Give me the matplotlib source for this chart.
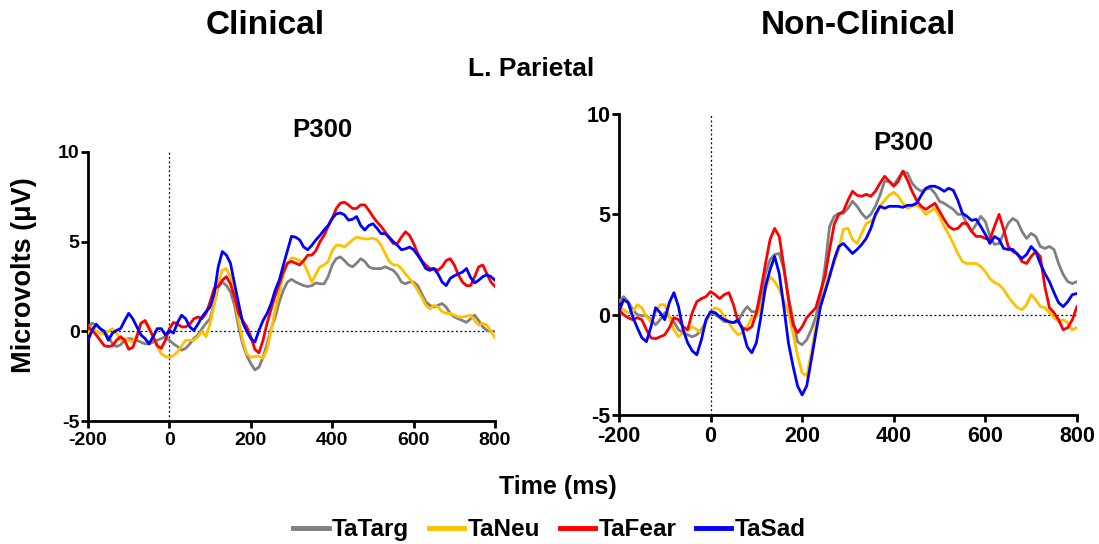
import numpy as np
import matplotlib
matplotlib.use("Agg")
import matplotlib.pyplot as plt
from matplotlib.lines import Line2D

plt.rcParams['font.family'] = ['Liberation Sans', 'DejaVu Sans']
plt.rcParams['font.weight'] = 'bold'
plt.rcParams['axes.unicode_minus'] = False

# time axis (ms), one sample every 10 ms
time_ms = np.arange(-200, 801, 10)

series_names = ["TaTarg", "TaNeu", "TaFear", "TaSad"]
series_colors = ["#808080", "#FFC000", "#FF0000", "#0000FF"]

# ---- Clinical group ----
clin_targ = [0.25, 0.45, 0.35, 0.15, -0.1, -0.3, -0.7, -0.85, -0.75, -0.5,
             -0.4, -0.45, -0.5, -0.6, -0.7, -0.7, -0.6, -0.5, -0.4, -0.3,
             -0.5, -0.7, -0.85, -1.05, -0.95, -0.7, -0.4, -0.2, 0.15, 0.45,
             0.7, 1.55, 2.5, 2.75, 2.55, 2.2, 1.45, 0.25, -0.7, -1.35,
             -1.8, -2.15, -2.0, -1.45, -0.7, 0.15, 0.8, 1.65, 2.3, 2.75,
             2.9, 2.75, 2.65, 2.55, 2.5, 2.55, 2.7, 2.65, 2.65, 3.05,
             3.7, 4.05, 4.15, 3.95, 3.7, 3.6, 3.8, 4.05, 3.9, 3.6,
             3.5, 3.5, 3.5, 3.6, 3.5, 3.4, 3.15, 2.75, 2.65, 2.75,
             2.75, 2.55, 2.1, 1.65, 1.45, 1.35, 1.45, 1.55, 1.35, 1.0,
             0.8, 0.7, 0.6, 0.5, 0.7, 0.9, 0.6, 0.25, 0.05, 0.0,
             0.0]
clin_neu = [-0.1, 0.25, 0.0, -0.1, -0.15, 0.0, 0.15, -0.1, -0.5, -0.4,
            -0.5, -0.6, -0.2, 0.45, 0.6, 0.25, -0.3, -0.85, -1.25, -1.4,
            -1.45, -1.35, -1.15, -0.8, -0.5, -0.5, -0.5, -0.3, 0.0, -0.3,
            0.45, 1.45, 2.75, 3.4, 3.5, 3.05, 1.9, 0.6, -0.5, -1.25,
            -1.45, -1.4, -1.4, -1.5, -1.0, 0.05, 1.2, 2.2, 3.2, 3.8,
            4.1, 4.05, 3.95, 3.8, 3.3, 2.75, 3.2, 3.6, 3.7, 3.9,
            4.5, 4.8, 4.8, 4.7, 4.9, 5.1, 5.25, 5.2, 5.15, 5.15,
            5.2, 5.1, 4.8, 4.35, 3.9, 3.7, 3.7, 3.5, 3.2, 2.95,
            2.65, 2.3, 1.9, 1.45, 1.25, 1.45, 1.35, 1.1, 1.0, 1.0,
            0.9, 0.8, 0.8, 0.85, 0.9, 0.6, 0.35, 0.45, 0.35, 0.0,
            -0.35]
clin_fear = [0.25, 0.05, -0.2, -0.5, -0.8, -0.85, -0.8, -0.5, -0.3, -0.5,
             -1.0, -0.9, -0.3, 0.45, 0.6, 0.15, -0.3, -0.8, -0.95, -0.5,
             0.15, 0.5, 0.4, 0.25, 0.25, 0.4, 0.7, 0.8, 0.7, 1.0,
             1.65, 2.4, 2.5, 2.85, 3.05, 2.65, 1.9, 1.0, 0.6, 0.25,
             -0.3, -1.0, -1.2, -0.5, 0.45, 1.25, 2.0, 2.65, 3.3, 3.8,
             3.9, 3.8, 3.7, 3.95, 4.25, 4.25, 4.5, 5.0, 5.35, 5.85,
             6.3, 6.85, 7.15, 7.2, 7.05, 6.85, 6.85, 7.05, 7.05, 6.75,
             6.4, 6.1, 5.85, 5.55, 5.2, 4.9, 4.9, 5.25, 5.55, 5.35,
             4.9, 4.35, 3.95, 3.7, 3.5, 3.5, 3.4, 3.6, 3.95, 4.05,
             3.7, 3.15, 2.75, 2.55, 2.55, 3.05, 3.6, 3.7, 3.2, 2.75,
             2.5]
clin_sad = [-0.5, 0.05, 0.4, 0.15, 0.0, -0.5, -0.1, 0.05, 0.15, 0.6,
            1.0, 0.7, 0.25, -0.2, -0.4, -0.7, -0.3, 0.15, 0.15, -0.2,
            0.05, -0.1, 0.5, 0.9, 0.7, 0.25, 0.05, 0.4, 0.8, 1.1,
            1.35, 2.1, 3.6, 4.45, 4.25, 3.8, 2.65, 1.55, 0.5, 0.0,
            -0.4, -0.6, 0.05, 0.6, 1.0, 1.55, 2.3, 2.85, 3.7, 4.5,
            5.3, 5.25, 5.1, 4.7, 4.55, 4.8, 5.1, 5.35, 5.65, 5.9,
            6.3, 6.55, 6.6, 6.5, 6.2, 6.25, 6.4, 5.9, 5.65, 5.9,
            6.0, 5.75, 5.45, 5.45, 5.25, 5.0, 4.8, 4.55, 4.6, 4.7,
            4.55, 4.25, 3.9, 3.5, 3.4, 3.5, 3.2, 2.75, 2.55, 2.95,
            3.1, 3.2, 3.3, 3.5, 3.0, 2.7, 2.85, 3.05, 3.15, 3.05,
            2.85]

# ---- Non-clinical group ----
nonclin_targ = [0.65, 0.9, 0.65, 0.25, 0.0, -0.05, -0.05, -0.25, -0.5, -0.25,
                0.1, -0.1, -0.35, -0.75, -0.9, -1.0, -1.1, -1.0, -0.75, -0.35,
                0.1, 0.0, -0.15, -0.35, -0.35, -0.4, -0.35, 0.1, 0.4, 0.15,
                0.15, 0.75, 2.05, 2.75, 3.0, 3.05, 2.25, 0.9, -0.25, -1.35,
                -1.5, -1.25, -0.75, -0.1, 0.9, 2.4, 4.4, 4.9, 5.05, 5.05,
                5.3, 5.65, 5.4, 5.05, 4.8, 5.0, 5.4, 5.95, 6.65, 6.65,
                6.45, 6.8, 7.15, 7.05, 6.55, 6.3, 6.15, 6.25, 6.3, 6.05,
                5.65, 5.55, 5.4, 5.25, 5.0, 5.0, 4.5, 4.15, 4.5, 4.9,
                4.65, 3.9, 3.5, 3.55, 4.05, 4.55, 4.8, 4.65, 4.15, 3.8,
                4.05, 3.9, 3.4, 3.3, 3.4, 3.25, 2.55, 2.0, 1.65, 1.55,
                1.65]
nonclin_neu = [0.35, 0.25, 0.1, 0.15, 0.5, 0.35, -0.1, -0.35, 0.1, 0.5,
               0.5, -0.1, -0.75, -1.1, -0.9, -0.75, -0.6, -0.75, -0.9, -0.4,
               0.1, 0.35, 0.25, -0.1, -0.4, -0.75, -1.0, -0.9, -0.6, -0.15,
               -0.1, 0.4, 1.25, 1.9, 1.65, 1.25, 0.75, 0.1, -0.9, -2.05,
               -2.9, -3.05, -1.9, -0.6, 0.4, 1.25, 2.05, 2.55, 3.25, 4.25,
               4.3, 3.75, 3.55, 4.05, 4.55, 4.65, 4.9, 5.4, 5.7, 5.95,
               6.1, 5.9, 5.55, 5.3, 5.4, 5.45, 5.3, 5.0, 5.15, 5.3,
               4.9, 4.4, 4.0, 3.55, 3.05, 2.65, 2.55, 2.55, 2.55, 2.4,
               2.15, 1.8, 1.6, 1.5, 1.25, 0.9, 0.6, 0.35, 0.25, 0.5,
               1.0, 0.75, 0.4, 0.35, 0.1, -0.15, -0.35, -0.25, -0.4, -0.75,
               -0.65]
nonclin_fear = [0.25, 0.0, -0.15, -0.25, -0.15, -0.25, -0.75, -1.15, -1.2, -1.1,
                -1.0, -0.65, -0.15, -0.25, -0.6, -0.75, 0.1, 0.65, 0.8, 0.9,
                1.15, 1.0, 0.8, 1.0, 1.1, 0.5, -0.35, -0.65, -0.75, -0.6,
                0.1, 1.25, 2.55, 3.75, 4.3, 3.9, 2.4, 0.75, -0.5, -0.9,
                -0.6, -0.15, 0.1, 0.35, 1.15, 1.9, 3.25, 4.5, 5.0, 5.15,
                5.7, 6.15, 5.95, 5.9, 6.0, 5.9, 6.15, 6.55, 6.9, 6.65,
                6.4, 6.65, 7.15, 6.7, 6.15, 5.7, 5.4, 5.25, 5.4, 5.55,
                5.15, 4.75, 4.4, 4.25, 4.3, 4.55, 4.55, 4.15, 3.9, 3.9,
                3.8, 3.75, 4.4, 5.0, 4.25, 3.4, 3.15, 3.05, 2.65, 2.55,
                2.9, 3.15, 2.9, 1.4, 0.35, 0.1, -0.25, -0.75, -0.65, -0.25,
                0.4]
nonclin_sad = [0.15, 0.75, 0.6, -0.1, -0.65, -1.15, -1.35, -0.6, 0.35, 0.1,
               -0.25, 0.6, 1.1, 0.4, -0.75, -1.4, -1.8, -2.0, -1.25, -0.25,
               0.15, 0.1, -0.1, -0.25, -0.35, -0.4, -0.25, -0.75, -1.6, -1.9,
               -1.4, -0.1, 1.4, 2.25, 2.9, 2.05, 0.4, -1.4, -2.55, -3.55,
               -4.0, -3.55, -2.25, -0.9, 0.4, 1.15, 1.9, 2.75, 3.4, 3.55,
               3.3, 3.05, 3.25, 3.5, 3.8, 4.3, 5.0, 5.4, 5.3, 5.4,
               5.4, 5.4, 5.35, 5.45, 5.45, 5.55, 5.95, 6.3, 6.4, 6.4,
               6.3, 6.15, 6.3, 6.2, 5.7, 5.05, 4.9, 4.7, 4.75, 4.4,
               4.0, 3.55, 3.9, 3.75, 3.3, 3.25, 3.25, 3.0, 2.8, 3.0,
               3.4, 3.15, 2.55, 2.05, 1.65, 1.1, 0.6, 0.4, 0.65, 1.0,
               1.05]

clinical = [clin_targ, clin_neu, clin_fear, clin_sad]
nonclinical = [nonclin_targ, nonclin_neu, nonclin_fear, nonclin_sad]

fig = plt.figure(figsize=(10.99, 5.44), dpi=100)
ax1 = fig.add_axes([0.0801, 0.2261, 0.3703, 0.4945])
ax2 = fig.add_axes([0.5632, 0.2371, 0.4167, 0.5533])


def style_axis(ax, tick_size):
    for side in ["top", "right"]:
        ax.spines[side].set_visible(False)
    for side in ["left", "bottom"]:
        ax.spines[side].set_linewidth(2.0)
    ax.set_xlim(-200, 800)
    ax.set_ylim(-5, 10)
    ax.set_xticks([-200, 0, 200, 400, 600, 800])
    ax.set_yticks([-5, 0, 5, 10])
    ax.tick_params(direction="out", length=5, width=2.0, labelsize=tick_size)
    ax.tick_params(axis="x", pad=3)
    ax.tick_params(axis="y", pad=1)
    for lab in ax.get_xticklabels() + ax.get_yticklabels():
        lab.set_fontweight("bold")
    ax.axhline(0, color="black", lw=0.9, ls=(0, (1.5, 2)), zorder=1)
    ax.axvline(0, color="black", lw=0.9, ls=(0, (1.5, 2)), zorder=1)


for ax, group, tsize in [(ax1, clinical, 14), (ax2, nonclinical, 15.5)]:
    style_axis(ax, tsize)
    for vals, col in zip(group, series_colors):
        ax.plot(time_ms, vals, color=col, lw=2.0, solid_joinstyle="round", zorder=3)

ax1.text(0.575, 1.082, "P300", transform=ax1.transAxes, ha="center", va="center",
         fontsize=18.5, fontweight="bold")
ax2.text(0.622, 0.905, "P300", transform=ax2.transAxes, ha="center", va="center",
         fontsize=18.5, fontweight="bold")

fig.text(0.241, 0.953, "Clinical", ha="center", va="center", fontsize=24, fontweight="bold")
fig.text(0.781, 0.953, "Non-Clinical", ha="center", va="center", fontsize=24, fontweight="bold")
fig.text(0.4836, 0.873, "L. Parietal", ha="center", va="center", fontsize=19, fontweight="bold")
fig.text(0.022, 0.494, "Microvolts (\u03bcV)", ha="center", va="center", rotation=90,
         fontsize=19.5, fontweight="bold")
fig.text(0.508, 0.105, "Time (ms)", ha="center", va="center", fontsize=18, fontweight="bold")

handles = [Line2D([0], [0], color=c, lw=3.5) for c in series_colors]
fig.legend(handles, series_names, loc="center", bbox_to_anchor=(0.5, 0.026), ncol=4,
           frameon=False, handlelength=1.45, handletextpad=0.15, columnspacing=0.8,
           prop={"weight": "bold", "size": 17.5})

fig.savefig("out.png", dpi=100)
